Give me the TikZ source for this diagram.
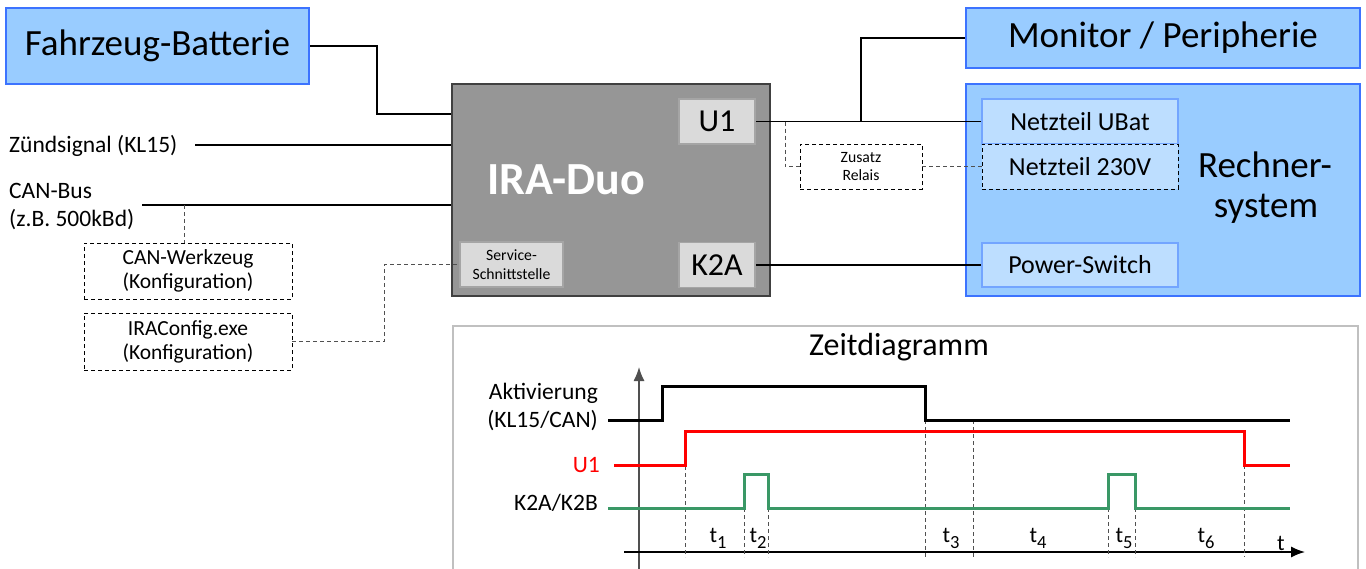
\documentclass[tikz,border=0pt]{standalone}
\usepackage{fontspec}
\setmainfont{Carlito}
\usetikzlibrary{arrows.meta}
\definecolor{lblue}{RGB}{153,204,255}
\definecolor{bblue}{RGB}{60,115,255}
\definecolor{ilblue}{RGB}{189,222,255}
\definecolor{iblue}{RGB}{115,165,255}
\definecolor{iragray}{RGB}{150,150,150}
\definecolor{iraborder}{RGB}{64,64,64}
\definecolor{pgray}{RGB}{218,218,218}
\definecolor{pborder}{RGB}{165,165,165}
\definecolor{sgreen}{RGB}{58,152,102}
\definecolor{framegray}{RGB}{192,192,192}
\definecolor{dgray}{RGB}{80,80,80}
\newcommand{\tsub}[1]{t\raisebox{-6pt}{\fontsize{18.5}{18.5}\selectfont #1}}
\begin{document}
\begin{tikzpicture}[x=1pt,y=-1pt,
  bluebox/.style={draw=bblue, fill=lblue, line width=2pt, inner sep=0pt, font=\fontsize{37}{44}\selectfont},
  inbox/.style={draw=iblue, fill=ilblue, line width=1.5pt, inner sep=0pt, minimum width=196pt, font=\fontsize{26}{31}\selectfont},
  portbox/.style={draw=pborder, fill=pgray, line width=1.5pt, inner sep=0pt},
  dbox/.style={draw=black, dash pattern=on 4pt off 3pt, line width=0.9pt, inner sep=0pt, align=center},
  wire/.style={line width=1.8pt, black},
  dwire/.style={line width=0.9pt, dgray, dash pattern=on 4pt off 3pt},
  lbl/.style={inner sep=0pt, font=\fontsize{23.5}{28}\selectfont},
  sig/.style={line width=3pt},
  tdash/.style={line width=0.9pt, dgray, dash pattern=on 4pt off 3pt},
  tlbl/.style={inner sep=0pt, anchor=base, font=\fontsize{22.5}{26}\selectfont}
]
\useasboundingbox (0,0) rectangle (1366,568);

% ---------- upper block diagram ----------
\node[bluebox, minimum width=303pt, minimum height=76pt] (bat) at (157.5,46) {Fahrzeug-Batterie};
\node[draw=iraborder, fill=iragray, line width=2.2pt, minimum width=318pt, minimum height=212pt] (ira) at (611,190) {};
\node[inner sep=0pt, anchor=base, text=white, font=\fontsize{46}{50}\selectfont\bfseries] (iratxt) at (566,194) {IRA-Duo};
\node[portbox, minimum width=76pt, minimum height=45pt, font=\fontsize{32}{36}\selectfont] (u1) at (717,121.5) {U1};
\node[portbox, minimum width=76pt, minimum height=45pt, font=\fontsize{32}{36}\selectfont] (k2a) at (717,265) {K2A};
\node[portbox, minimum width=103pt, minimum height=45pt, align=center, font=\fontsize{15.7}{18.5}\selectfont] (svc) at (511.5,264.5) {Service-\\Schnittstelle};

\node[bluebox, minimum width=394pt, minimum height=60pt] (mon) at (1163,38) {Monitor / Peripherie};
\node[bluebox, minimum width=394pt, minimum height=212pt] (rech) at (1163,190) {};
\node[inbox, minimum height=45pt] (nub) at (1080,121.5) {Netzteil UBat};
\node[inbox, draw=black, dash pattern=on 4pt off 3pt, line width=0.9pt, minimum height=45pt] (n230) at (1080,166.5) {Netzteil 230V};
\node[inbox, minimum height=44pt] (psw) at (1080,265) {Power-Switch};
\node[inner sep=0pt, anchor=base, font=\fontsize{37}{44}\selectfont] (rt1) at (1265,177) {Rechner-};
\node[inner sep=0pt, anchor=base, font=\fontsize{37}{44}\selectfont] (rt2) at (1266,217) {system};

\node[dbox, minimum width=122pt, minimum height=45pt, font=\fontsize{15.7}{18.5}\selectfont] (zus) at (861,166.5) {Zusatz\\Relais};

\node[lbl, anchor=base west] (zl) at (9,152) {Zündsignal (KL15)};
\node[lbl, anchor=base west] (cl1) at (9,198) {CAN-Bus};
\node[lbl, anchor=base west] (cl2) at (9,226) {(z.B. 500kBd)};

\node[dbox, minimum width=208pt, minimum height=56pt, font=\fontsize{21.5}{24}\selectfont] (canw) at (188,271) {CAN-Werkzeug\\(Konfiguration)};
\node[dbox, minimum width=208pt, minimum height=57pt, font=\fontsize{21.5}{24}\selectfont] (irac) at (188,341.5) {IRAConfig.exe\\(Konfiguration)};

% connectors
\draw[wire] (bat.east) -- (377,46) -- (377,114) -- (ira.west |- 377,114);
\coordinate (zs) at (195,145);
\draw[wire] (zs) -- (zs -| ira.west);
\coordinate (cb) at (142,205);
\draw[wire] (cb) -- (cb -| ira.west);
\coordinate (cd) at (184,205);
\draw[dwire] (cd) -- (cd |- canw.north);
\draw[dwire] (irac.east) -- ++(92,0) |- (svc.west);

\draw[wire] (u1.east) -- (nub.west);
\coordinate (br) at (861,121.5);
\draw[wire] (br) |- (mon.west);
\coordinate (zb) at (785,121.5);
\draw[dwire] (zb) |- (zus.west);
\draw[dwire] (zus.east) -- (zus.east -| n230.west);
\draw[wire] (k2a.east) -- (k2a.east -| psw.west);

% ---------- timing diagram ----------
\draw[framegray, line width=1.2pt] (453,570) -- (453,326) -- (1358,326) -- (1358,570);
\node[inner sep=0pt, font=\fontsize{32}{38}\selectfont] (title) at (899,347) {Zeitdiagramm};

\coordinate (ybot) at (639,570);
\coordinate (ytop) at (639,367);
\coordinate (xl) at (624,552);
\coordinate (xr) at (1305,552);
\draw[line width=1.4pt, dgray, -{Latex[length=14pt,width=11pt]}] (ybot) -- (ytop);
\draw[line width=1.4pt, black, -{Latex[length=14pt,width=11pt]}] (xl) -- (xr);

\foreach \x/\y in {685/431, 744/508, 768/508, 925/420, 973/420, 1108/508, 1135/508, 1244/465}
  \draw[tdash] (\x,\y) -- (\x,557);

\draw[sig, black] (608,420) -- (662,420) -- (662,386) -- (925,386) -- (925,420) -- (1290,420);
\draw[sig, red] (614,465) -- (685,465) -- (685,431) -- (1244,431) -- (1244,465) -- (1290,465);
\draw[sig, sgreen] (608,508) -- (744,508) -- (744,474) -- (768,474) -- (768,508) -- (1108,508) -- (1108,474) -- (1135,474) -- (1135,508) -- (1290,508);

\node[lbl, anchor=base east] (akt1) at (598,399) {Aktivierung};
\node[lbl, anchor=base east] (akt2) at (598,427) {(KL15/CAN)};
\node[lbl, anchor=base east, text=red] (u1l) at (600,472) {U1};
\node[lbl, anchor=base east] (k2l) at (598,510) {K2A/K2B};

\node[tlbl] (t1) at (718,542) {\tsub{1}};
\node[tlbl] (t2) at (758,542) {\tsub{2}};
\node[tlbl] (t3) at (951,542) {\tsub{3}};
\node[tlbl] (t4) at (1038,542) {\tsub{4}};
\node[tlbl] (t5) at (1124,542) {\tsub{5}};
\node[tlbl] (t6) at (1206,542) {\tsub{6}};
\node[tlbl] (tax) at (1281,550) {t};
\end{tikzpicture}
\end{document}
